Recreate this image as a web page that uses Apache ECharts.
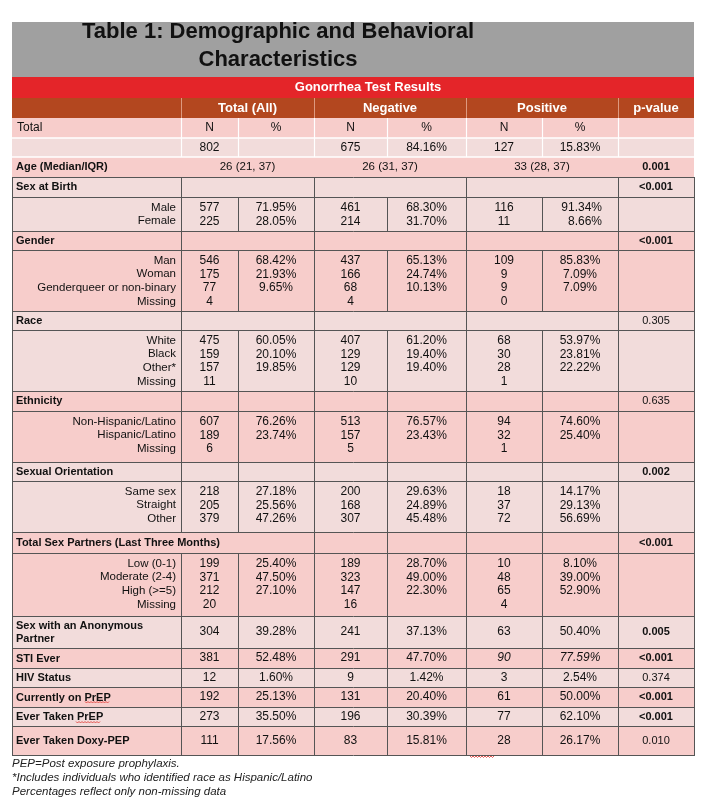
<!DOCTYPE html>
<html><head><meta charset="utf-8">
<script src="https://cdn.jsdelivr.net/npm/echarts@6/dist/echarts.min.js"></script>
<style>html,body{margin:0;padding:0;background:#fff}#c{width:710px;height:811px}</style>
</head><body><div id="c"></div>
<script>
// ---------------- DATA ----------------
const titleLines = ['Table 1: Demographic and Behavioral', 'Characteristics'];
const bannerText = 'Gonorrhea Test Results';
const groupHeaders = ['Total (All)', 'Negative', 'Positive', 'p-value'];
const subHeaders = ['N', '%', 'N', '%', 'N', '%'];
const totalLabel = 'Total';
const totalN = [802, 675, 127];
const totalPct = [null, 84.16, 15.83];
const ageLabel = 'Age (Median/IQR)';
const ageIQR = ['26 (21, 37)', '26 (31, 37)', '33 (28, 37)'];
const ageP = '0.001';

const sectionNames = ['Sex at Birth', 'Gender', 'Race', 'Ethnicity', 'Sexual Orientation', 'Total Sex Partners (Last Three Months)'];
const sectionP = ['<0.001', '<0.001', '0.305', '0.635', '0.002', '<0.001'];
const sectionPBold = [true, true, false, false, true, true];

const sexLabels = ['Male', 'Female'];
const sexTotN = [577, 225];
const sexTotPct = [71.95, 28.05];
const sexNegN = [461, 214];
const sexNegPct = [68.30, 31.70];
const sexPosN = [116, 11];
const sexPosPct = [91.34, 8.66];

const genderLabels = ['Man', 'Woman', 'Genderqueer or non-binary', 'Missing'];
const genderTotN = [546, 175, 77, 4];
const genderTotPct = [68.42, 21.93, 9.65, null];
const genderNegN = [437, 166, 68, 4];
const genderNegPct = [65.13, 24.74, 10.13, null];
const genderPosN = [109, 9, 9, 0];
const genderPosPct = [85.83, 7.09, 7.09, null];

const raceLabels = ['White', 'Black', 'Other*', 'Missing'];
const raceTotN = [475, 159, 157, 11];
const raceTotPct = [60.05, 20.10, 19.85, null];
const raceNegN = [407, 129, 129, 10];
const raceNegPct = [61.20, 19.40, 19.40, null];
const racePosN = [68, 30, 28, 1];
const racePosPct = [53.97, 23.81, 22.22, null];

const ethLabels = ['Non-Hispanic/Latino', 'Hispanic/Latino', 'Missing'];
const ethTotN = [607, 189, 6];
const ethTotPct = [76.26, 23.74, null];
const ethNegN = [513, 157, 5];
const ethNegPct = [76.57, 23.43, null];
const ethPosN = [94, 32, 1];
const ethPosPct = [74.60, 25.40, null];

const soLabels = ['Same sex', 'Straight', 'Other'];
const soTotN = [218, 205, 379];
const soTotPct = [27.18, 25.56, 47.26];
const soNegN = [200, 168, 307];
const soNegPct = [29.63, 24.89, 45.48];
const soPosN = [18, 37, 72];
const soPosPct = [14.17, 29.13, 56.69];

const partLabels = ['Low (0-1)', 'Moderate (2-4)', 'High (>=5)', 'Missing'];
const partTotN = [199, 371, 212, 20];
const partTotPct = [25.40, 47.50, 27.10, null];
const partNegN = [189, 323, 147, 16];
const partNegPct = [28.70, 49.00, 22.30, null];
const partPosN = [10, 48, 65, 4];
const partPosPct = [8.10, 39.00, 52.90, null];

const singleLabels = ['Sex with an Anonymous\nPartner', 'STI Ever', 'HIV Status', 'Currently on PrEP', 'Ever Taken PrEP', 'Ever Taken Doxy-PEP'];
const singleTotN = [304, 381, 12, 192, 273, 111];
const singleTotPct = [39.28, 52.48, 1.60, 25.13, 35.50, 17.56];
const singleNegN = [241, 291, 9, 131, 196, 83];
const singleNegPct = [37.13, 47.70, 1.42, 20.40, 30.39, 15.81];
const singlePosN = [63, 90, 3, 61, 77, 28];
const singlePosPct = [50.40, 77.59, 2.54, 50.00, 62.10, 26.17];
const singleP = ['0.005', '<0.001', '0.374', '<0.001', '<0.001', '0.010'];
const singlePBold = [true, true, false, true, true, false];

const footnotes = ['PEP=Post exposure prophylaxis.', '*Includes individuals who identified race as Hispanic/Latino', 'Percentages reflect only non-missing data'];

// ---------------- LAYOUT / STYLE ----------------
const L = 12, R = 694;
const colEdges = [12, 181, 238, 314, 387, 466, 542, 618, 694];
const valCenters = [209.5, 276, 350.5, 426.5, 504, 580];
const groupCenters = [247.5, 390, 542, 656];
const inner = [181, 238, 314, 387, 466, 542, 618];
const C = { gray: '#A0A0A0', red: '#E42529', brown: '#B3471F', light: '#F2DCDB', dark: '#F7CDCB', grid: '#555555' };
const FF = '"Liberation Sans", Arial, sans-serif';
const fNum = '12px ' + FF, fLab = '11.5px ' + FF, fBold = 'bold 11px ' + FF;

const sections = [
  [sexLabels, sexTotN, sexTotPct, sexNegN, sexNegPct, sexPosN, sexPosPct],
  [genderLabels, genderTotN, genderTotPct, genderNegN, genderNegPct, genderPosN, genderPosPct],
  [raceLabels, raceTotN, raceTotPct, raceNegN, raceNegPct, racePosN, racePosPct],
  [ethLabels, ethTotN, ethTotPct, ethNegN, ethNegPct, ethPosN, ethPosPct],
  [soLabels, soTotN, soTotPct, soNegN, soNegPct, soPosN, soPosPct],
  [partLabels, partTotN, partTotPct, partNegN, partNegPct, partPosN, partPosPct]
];
const secHdrH = [20, 19, 19, 20, 19, 21];
const secSubH = [34, 61, 61, 51, 51, 63];
const secHdrDiv = [[181, 314, 466, 618], [181, 314, 466, 618], [181, 314, 466, 618], inner, inner, [314, 387, 466, 542, 618]];
const secFill = [C.light, C.dark, C.light, C.dark, C.light, C.dark];
const secPosPctRight = [true, false, false, false, false, false];
const singleH = [32, 20, 19, 20, 19, 29];
const singleFill = [C.light, C.dark, C.light, C.dark, C.light, C.dark];
const singlePosItalic = [false, true, false, false, false, false];

const pct = v => (v == null ? '' : v.toFixed(2) + '%');
const num = v => (v == null ? '' : String(v));

// ---------------- BUILD ELEMENTS ----------------
const rects = [], lines = [], texts = [], waves = [];
const rect = (x0, y0, x1, y1, fill) => rects.push({ kind: 'rect', x0, y0, x1, y1, fill });
const hline = (y, x0, x1, stroke, w) => lines.push({ kind: 'line', x0, y0: y, x1, y1: y, stroke, w: w || 1 });
const vline = (x, y0, y1, stroke, w) => lines.push({ kind: 'line', x0: x, y0, x1: x, y1, stroke, w: w || 1 });
const text = (t, x, y, font, align, fill, lh) => texts.push({ kind: 'text', text: t, x0: x, y0: y, font, align: align || 'center', fill: fill || '#111', lh });

// title
rect(L, 22, R, 77, C.gray);
text(titleLines[0], 278, 32, 'bold 22px ' + FF, 'center', '#111');
text(titleLines[1], 278, 60, 'bold 22px ' + FF, 'center', '#111');
// banner
rect(L, 77, R, 98, C.red);
text(bannerText, 368, 87.5, 'bold 13px ' + FF, 'center', '#fff');
// group header
rect(L, 98, R, 118, C.brown);
[181, 314, 466, 618].forEach(x => vline(x + 0.5, 98, 118, 'rgba(255,220,205,0.55)'));
groupHeaders.forEach((g, i) => text(g, groupCenters[i], 108, 'bold 13px ' + FF, 'center', '#fff'));
// total rows
rect(L, 118, R, 138, C.dark);
rect(L, 138, R, 157, C.light);
rect(L, 157, R, 177, C.dark);
hline(138, L, R, '#ffffff', 1.5);
hline(157, L, R, '#ffffff', 1.5);
inner.forEach(x => vline(x + 0.5, 118, 157, '#ffffff', 1.2));
text(totalLabel, 17, 128, fNum, 'left');
subHeaders.forEach((s, i) => text(s, valCenters[i], 128, fNum));
totalN.forEach((v, i) => text(num(v), valCenters[i * 2], 147.5, fNum));
totalPct.forEach((v, i) => text(pct(v), valCenters[i * 2 + 1], 147.5, fNum));
text(ageLabel, 16, 167, fBold, 'left');
ageIQR.forEach((v, i) => text(v, groupCenters[i], 167, '11.5px ' + FF));
text(ageP, groupCenters[3], 167, fBold);

// sections
let y = 177;
const hBounds = [177];
sections.forEach((s, k) => {
  const yh0 = y, yh1 = y + secHdrH[k], ys1 = yh1 + secSubH[k];
  rect(L, yh0, R, ys1, secFill[k]);
  secHdrDiv[k].forEach(x => vline(x + 0.5, yh0, yh1, C.grid));
  inner.forEach(x => vline(x + 0.5, yh1, ys1, C.grid));
  text(sectionNames[k], 16, (yh0 + yh1) / 2, fBold, 'left');
  text(sectionP[k], groupCenters[3], (yh0 + yh1) / 2, (sectionPBold[k] ? 'bold ' : '') + '11px ' + FF);
  const [labs, tN, tP, nN, nP, pN, pP] = s;
  labs.forEach((lab, i) => {
    const ly = yh1 + 10.5 + i * 13.8;
    text(lab, 176, ly, fLab, 'right');
    text(num(tN[i]), valCenters[0], ly, fNum);
    text(pct(tP[i]), valCenters[1], ly, fNum);
    text(num(nN[i]), valCenters[2], ly, fNum);
    text(pct(nP[i]), valCenters[3], ly, fNum);
    text(num(pN[i]), valCenters[4], ly, fNum);
    if (secPosPctRight[k]) text(pct(pP[i]), 602, ly, fNum, 'right');
    else text(pct(pP[i]), valCenters[5], ly, fNum);
  });
  hBounds.push(yh1, ys1);
  y = ys1;
});
// single rows
singleLabels.forEach((lab, i) => {
  const y0 = y, y1 = y + singleH[i], cy = (y0 + y1) / 2;
  rect(L, y0, R, y1, singleFill[i]);
  inner.forEach(x => vline(x + 0.5, y0, y1, C.grid));
  text(lab, 16, cy + 0.5, fBold, 'left', '#111', 13.5);
  text(num(singleTotN[i]), valCenters[0], cy, fNum);
  text(pct(singleTotPct[i]), valCenters[1], cy, fNum);
  text(num(singleNegN[i]), valCenters[2], cy, fNum);
  text(pct(singleNegPct[i]), valCenters[3], cy, fNum);
  const it = singlePosItalic[i] ? 'italic ' : '';
  text(num(singlePosN[i]), valCenters[4], cy, it + fNum);
  text(pct(singlePosPct[i]), valCenters[5], cy, it + fNum);
  text(singleP[i], groupCenters[3], cy, (singlePBold[i] ? 'bold ' : '') + '11px ' + FF);
  hBounds.push(y1);
  y = y1;
});
hBounds.forEach(hy => hline(hy + 0.5, L, R + 1, C.grid));
vline(L + 0.5, 177, y, C.grid);
vline(R + 0.5, 177, y, C.grid);
// spell-check squiggles
const wave = (x0, x1, wy) => waves.push({ kind: 'wave', x0, y0: wy, x1 });
wave(85, 110, 702);
wave(76, 100, 722);
wave(470, 495, 756.5);
// footnotes
footnotes.forEach((f, i) => text(f, 12, 764 + i * 14, 'italic 11.5px ' + FF, 'left', '#222'));

const elems = [].concat(rects, lines, waves, texts);

// ---------------- CHART ----------------
const chart = echarts.init(document.getElementById('c'), null, { renderer: 'canvas' });
function renderItem(params, api) {
  const e = elems[params.dataIndex];
  const a = api.coord([e.x0, e.y0]);
  if (e.kind === 'rect') {
    const b = api.coord([e.x1, e.y1]);
    return { type: 'rect', shape: { x: a[0], y: a[1], width: b[0] - a[0], height: b[1] - a[1] }, style: { fill: e.fill } };
  }
  if (e.kind === 'line') {
    const b = api.coord([e.x1, e.y1]);
    return { type: 'line', shape: { x1: a[0], y1: a[1], x2: b[0], y2: b[1] }, style: { stroke: e.stroke, lineWidth: e.w } };
  }
  if (e.kind === 'wave') {
    const b = api.coord([e.x1, e.y0]);
    const pts = [];
    for (let x = a[0], k = 0; x <= b[0]; x += 1.5, k++) pts.push([x, a[1] + (k % 2 ? 1 : -0.5)]);
    return { type: 'polyline', shape: { points: pts }, style: { stroke: '#E0302A', lineWidth: 0.8, fill: null } };
  }
  return {
    type: 'text',
    style: { text: e.text, x: a[0], y: a[1], font: e.font, fill: e.fill, align: e.align, verticalAlign: 'middle', lineHeight: e.lh }
  };
}
chart.setOption({
  animation: false,
  grid: { left: 0, right: 0, top: 0, bottom: 0 },
  xAxis: { type: 'value', min: 0, max: 710, show: false },
  yAxis: { type: 'value', min: 0, max: 811, inverse: true, show: false },
  series: [{
    type: 'custom',
    clip: false,
    silent: true,
    renderItem,
    data: elems.map(e => [e.x0, e.y0])
  }]
});
</script>
</body></html>
